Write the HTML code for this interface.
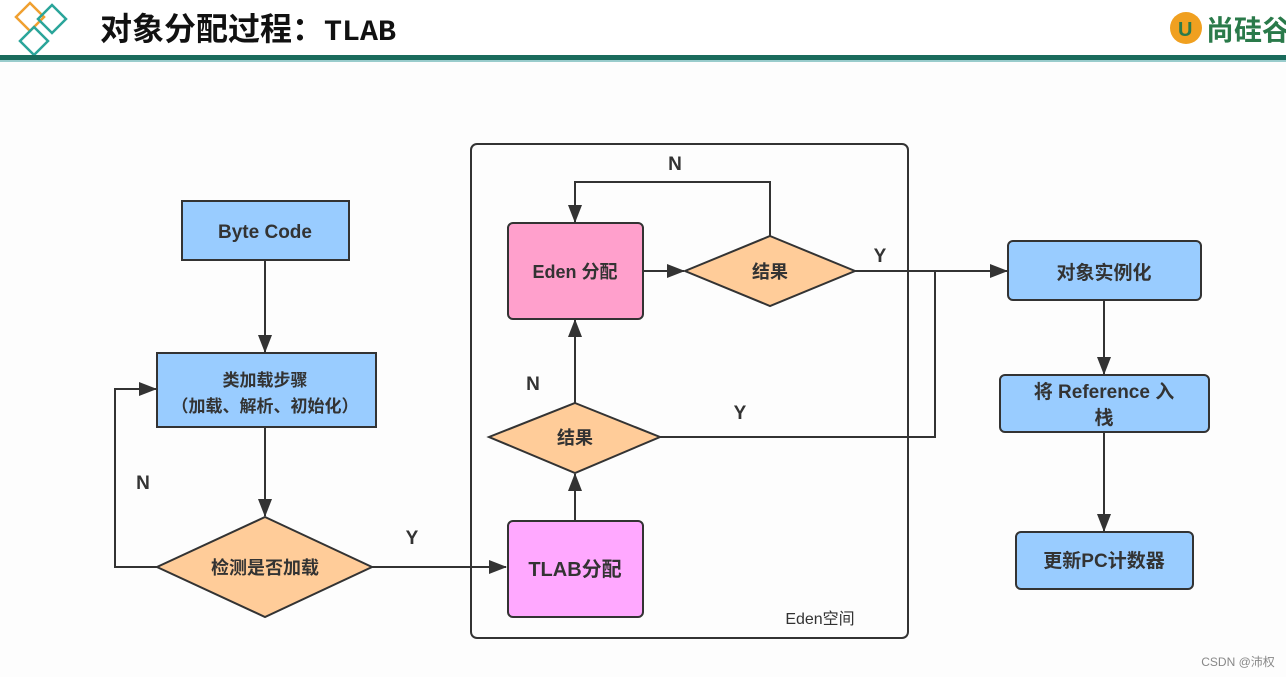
<!DOCTYPE html>
<html><head><meta charset="utf-8"><style>
body{margin:0;width:1286px;height:677px;background:#fdfdfd;overflow:hidden;font-family:"Liberation Sans","Noto Sans CJK SC",sans-serif}
</style></head><body>
<svg width="1286" height="677" xmlns="http://www.w3.org/2000/svg" style="position:absolute;left:0;top:0">
<defs><marker id="a" markerWidth="18" markerHeight="14" refX="17" refY="7" orient="auto" markerUnits="userSpaceOnUse"><path d="M0,0 L18,7 L0,14 z" fill="#333"/></marker></defs>
<rect x="0" y="0" width="1286" height="58" fill="#fff"/>
<g fill="none" stroke-width="2.5">
<path d="M30,3 L44,17 L30,31 L16,17 Z" stroke="#f0a030"/>
<path d="M52,5 L66,19 L52,33 L38,19 Z" stroke="#2aa59a"/>
<path d="M34,27 L48,41 L34,55 L20,41 Z" stroke="#2aa59a"/>
</g>
<text x="100" y="40" font-size="32" font-weight="bold" fill="#111">对象分配过程：<tspan font-family="Liberation Mono" font-size="30">TLAB</tspan></text>
<circle cx="1186" cy="28" r="16" fill="#f0a020"/><text x="1178" y="36" font-size="20" font-weight="bold" fill="#2a7a4a">U</text>
<text x="1206" y="40" font-size="28" font-weight="bold" fill="#2a7a4a">尚硅谷</text>
<rect x="0" y="55" width="1286" height="5" fill="#1a6b5c"/>
<rect x="0" y="60" width="1286" height="2" fill="#9cc"/>

<g stroke="#333" stroke-width="2" fill="none">
<rect x="471" y="144" width="437" height="494" rx="6"/>
<path d="M265,260 L265,352" marker-end="url(#a)"/>
<path d="M265,427 L265,516" marker-end="url(#a)"/>
<path d="M157,567 L115,567 L115,389 L156,389" marker-end="url(#a)"/>
<path d="M372,567 L506,567" marker-end="url(#a)"/>
<path d="M575,521 L575,474" marker-end="url(#a)"/>
<path d="M575,403 L575,320" marker-end="url(#a)"/>
<path d="M643,271 L684,271" marker-end="url(#a)"/>
<path d="M770,236 L770,182 L575,182 L575,222" marker-end="url(#a)"/>
<path d="M855,271 L1007,271" marker-end="url(#a)"/>
<path d="M660,437 L935,437 L935,271"/>
<path d="M1104,300 L1104,374" marker-end="url(#a)"/>
<path d="M1104,432 L1104,531" marker-end="url(#a)"/>
</g>
<g stroke="#333" stroke-width="2">
<rect x="182" y="201" width="167" height="59" fill="#99ccff"/>
<rect x="157" y="353" width="219" height="74" fill="#99ccff"/>
<path d="M265,517 L372,567 L265,617 L157,567 Z" fill="#ffcc99"/>
<rect x="508" y="521" width="135" height="96" rx="5" fill="#ffa8ff"/>
<path d="M575,403 L660,437 L575,473 L489,437 Z" fill="#ffcc99"/>
<rect x="508" y="223" width="135" height="96" rx="5" fill="#ffa0cc"/>
<path d="M770,236 L855,271 L770,306 L685,271 Z" fill="#ffcc99"/>
<rect x="1008" y="241" width="193" height="59" rx="5" fill="#99ccff"/>
<rect x="1000" y="375" width="209" height="57" rx="5" fill="#99ccff"/>
<rect x="1016" y="532" width="177" height="57" rx="5" fill="#99ccff"/>
</g>
<g font-size="19" font-weight="bold" fill="#333" text-anchor="middle">
<text x="265" y="238">Byte Code</text>
<text x="265" y="386" font-size="17">类加载步骤</text>
<text x="265" y="412" font-size="17">（加载、解析、初始化）</text>
<text x="265" y="574" font-size="18">检测是否加载</text>
<text x="575" y="576" font-size="20">TLAB分配</text>
<text x="575" y="444" font-size="18">结果</text>
<text x="575" y="278" font-size="18">Eden 分配</text>
<text x="770" y="278" font-size="18">结果</text>
<text x="1104" y="279">对象实例化</text>
<text x="1104" y="398">将 Reference 入</text>
<text x="1104" y="424">栈</text>
<text x="1104" y="567">更新PC计数器</text>
<text x="143" y="489">N</text>
<text x="412" y="544">Y</text>
<text x="533" y="390">N</text>
<text x="675" y="170">N</text>
<text x="880" y="262">Y</text>
<text x="740" y="419">Y</text>
</g>
<text x="820" y="624" font-size="16" fill="#333" text-anchor="middle">Eden空间</text>
<text x="1238" y="666" font-size="12" fill="#888" text-anchor="middle">CSDN @沛权</text>
</svg>
</body></html>
